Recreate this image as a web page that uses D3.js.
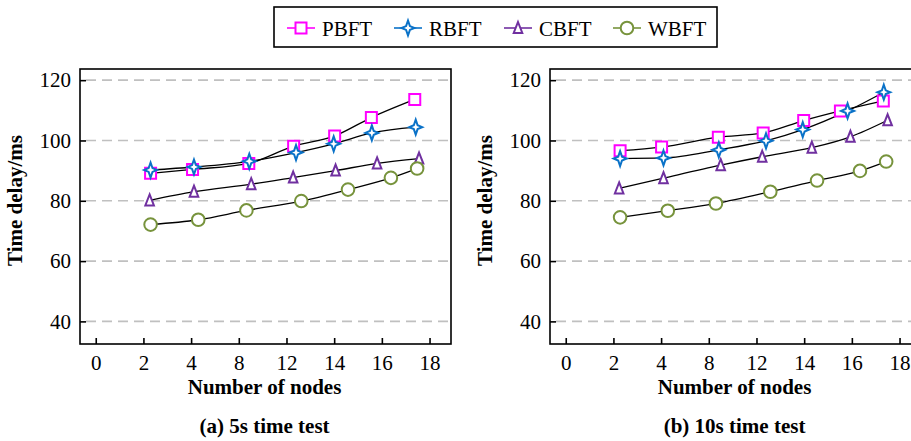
<!DOCTYPE html>
<html lang="en">
<head>
<meta charset="utf-8">
<script src="https://cdn.jsdelivr.net/npm/d3@7"></script>
<style>
body { margin: 0; background: #fff; }
svg { display: block; }
.grid line { stroke: #c0c0c0; stroke-width: 1.6; stroke-dasharray: 10,6; }
.frame { fill: none; stroke: #000; stroke-width: 1.6; }
.conn { fill: none; stroke: #000; stroke-width: 1.3; }
</style>
</head>
<body>
<div id="chart"></div>
<script>
var serif = "'Liberation Serif', 'Times New Roman', serif";

// categorical x ticks, evenly spaced (index positions 0..7)
var xTickLabels = ["0", "2", "4", "8", "12", "14", "16", "18"];
var yTicks = [40, 60, 80, 100, 120];
var seriesNames = ["PBFT", "RBFT", "CBFT", "WBFT"];
var seriesColors = ["#ff00ff", "#0a72c8", "#7030a0", "#77933c"];

// (a) 5s time test — x in tick-index units, y in ms
var a_pbft_x = [1.15, 2.03, 3.21, 4.15, 5.01, 5.78, 6.69];
var a_pbft_y = [89.1, 90.4, 92.4, 98.1, 101.5, 107.6, 113.6];
var a_rbft_x = [1.15, 2.06, 3.22, 4.20, 4.99, 5.79, 6.71];
var a_rbft_y = [90.2, 91.2, 93.1, 96.0, 98.9, 102.5, 104.4];
var a_cbft_x = [1.13, 2.06, 3.26, 4.14, 5.03, 5.90, 6.78];
var a_cbft_y = [80.1, 83.0, 85.5, 87.7, 90.0, 92.4, 94.0];
var a_wbft_x = [1.15, 2.15, 3.16, 4.31, 5.29, 6.19, 6.74];
var a_wbft_y = [72.1, 73.7, 76.8, 79.9, 83.7, 87.6, 90.7];

// (b) 10s time test
var b_pbft_x = [1.14, 2.01, 3.20, 4.14, 4.99, 5.76, 6.66];
var b_pbft_y = [96.6, 97.8, 101.1, 102.5, 106.6, 109.8, 113.1];
var b_rbft_x = [1.14, 2.05, 3.21, 4.20, 4.97, 5.91, 6.67];
var b_rbft_y = [94.0, 94.2, 96.9, 99.9, 103.6, 109.8, 116.0];
var b_cbft_x = [1.12, 2.05, 3.25, 4.12, 5.16, 5.97, 6.75];
var b_cbft_y = [84.1, 87.5, 91.8, 94.6, 97.6, 101.2, 106.7];
var b_wbft_x = [1.14, 2.14, 3.15, 4.29, 5.27, 6.17, 6.72];
var b_wbft_y = [74.5, 76.7, 79.1, 83.0, 86.7, 89.9, 93.0];

var width = 911, height = 441;
var svg = d3.select("#chart").append("svg")
    .attr("width", width)
    .attr("height", height);

// marker shapes
function markerPath(kind) {
    if (kind === "PBFT") return "M-5.5,-5.5H5.5V5.5H-5.5Z";
    if (kind === "RBFT") return "M0,-7.5L1.9,-1.9L6.5,0L1.9,1.9L0,7.5L-1.9,1.9L-6.5,0L-1.9,-1.9Z";
    if (kind === "CBFT") return "M0,-6L4.3,5L-4.3,5Z";
    return null;
}
function drawMarker(g, kind, color) {
    if (kind === "WBFT") {
        g.append("circle").attr("r", 6.3)
            .attr("fill", "#fff").attr("stroke", color).attr("stroke-width", 2);
    } else {
        g.append("path").attr("d", markerPath(kind))
            .attr("fill", "#fff").attr("stroke", color)
            .attr("stroke-width", 2)
            .attr("stroke-linejoin", "miter");
    }
}

function label(sel, size, bold) {
    return sel.style("font-family", serif)
        .style("font-size", size + "px")
        .style("font-weight", bold ? "bold" : "normal")
        .attr("fill", "#000");
}

function panel(left, caption, data) {
    var top = 69, w = 371, h = 275;
    var x = d3.scaleLinear().domain([-0.33, 7.45]).range([0, w]);
    var y = d3.scaleLinear().domain([32.5, 123.7]).range([h, 0]);
    var g = svg.append("g").attr("transform", "translate(" + left + "," + top + ")");

    g.append("g").attr("class", "grid")
        .selectAll("line").data(yTicks).enter().append("line")
        .attr("x1", 6).attr("x2", w)
        .attr("y1", function (d) { return y(d); })
        .attr("y2", function (d) { return y(d); });

    g.append("rect").attr("class", "frame")
        .attr("width", w).attr("height", h);

    var yAxis = g.append("g")
        .call(d3.axisLeft(y).tickValues(yTicks).tickSize(-6).tickPadding(9));
    yAxis.select(".domain").remove();
    yAxis.selectAll("line").attr("stroke-width", 1.6);
    label(yAxis.selectAll("text"), 21, false);

    var xAxis = g.append("g").attr("transform", "translate(0," + h + ")")
        .call(d3.axisBottom(x).tickValues(d3.range(8))
            .tickFormat(function (i) { return xTickLabels[i]; })
            .tickSize(-6).tickPadding(11));
    xAxis.select(".domain").remove();
    xAxis.selectAll("line").attr("stroke-width", 1.6);
    label(xAxis.selectAll("text"), 21, false);

    var line = d3.line()
        .x(function (d) { return x(d[0]); })
        .y(function (d) { return y(d[1]); })
        .curve(d3.curveMonotoneX);

    data.forEach(function (s) {
        g.append("path").attr("class", "conn").attr("d", line(d3.zip(s[0], s[1])));
    });
    data.forEach(function (s, k) {
        g.selectAll(".m" + k).data(d3.zip(s[0], s[1])).enter().append("g")
            .attr("class", "m" + k)
            .attr("transform", function (d) { return "translate(" + x(d[0]) + "," + y(d[1]) + ")"; })
            .each(function () { drawMarker(d3.select(this), seriesNames[k], seriesColors[k]); });
    });

    label(g.append("text"), 21, true)
        .attr("transform", "translate(-58," + (h / 2 - 6) + ") rotate(-90)")
        .attr("text-anchor", "middle")
        .text("Time delay/ms");

    label(g.append("text"), 21, true)
        .attr("x", x(3.54)).attr("y", h + 50)
        .attr("text-anchor", "middle")
        .text("Number of nodes");

    label(g.append("text"), 21, true)
        .attr("x", x(3.54)).attr("y", h + 89)
        .attr("text-anchor", "middle")
        .text(caption);
}

panel(80, "(a) 5s time test", [
    [a_pbft_x, a_pbft_y], [a_rbft_x, a_rbft_y], [a_cbft_x, a_cbft_y], [a_wbft_x, a_wbft_y]
]);
panel(550, "(b) 10s time test", [
    [b_pbft_x, b_pbft_y], [b_rbft_x, b_rbft_y], [b_cbft_x, b_cbft_y], [b_wbft_x, b_wbft_y]
]);

// legend
var legend = svg.append("g").attr("transform", "translate(274,7)");
legend.append("rect").attr("width", 443).attr("height", 40)
    .attr("fill", "#fff").attr("stroke", "#000").attr("stroke-width", 1.6);
var legendX = [13, 120, 230, 339];
seriesNames.forEach(function (name, k) {
    var item = legend.append("g").attr("transform", "translate(" + legendX[k] + ",21)");
    item.append("line").attr("x1", 0).attr("x2", 28)
        .attr("stroke", seriesColors[k]).attr("stroke-width", 1.6);
    drawMarker(item.append("g").attr("transform", "translate(14,0)"), name, seriesColors[k]);
    label(item.append("text"), 21, false).attr("x", 35).attr("y", 7.5).text(name);
});
</script>
</body>
</html>
